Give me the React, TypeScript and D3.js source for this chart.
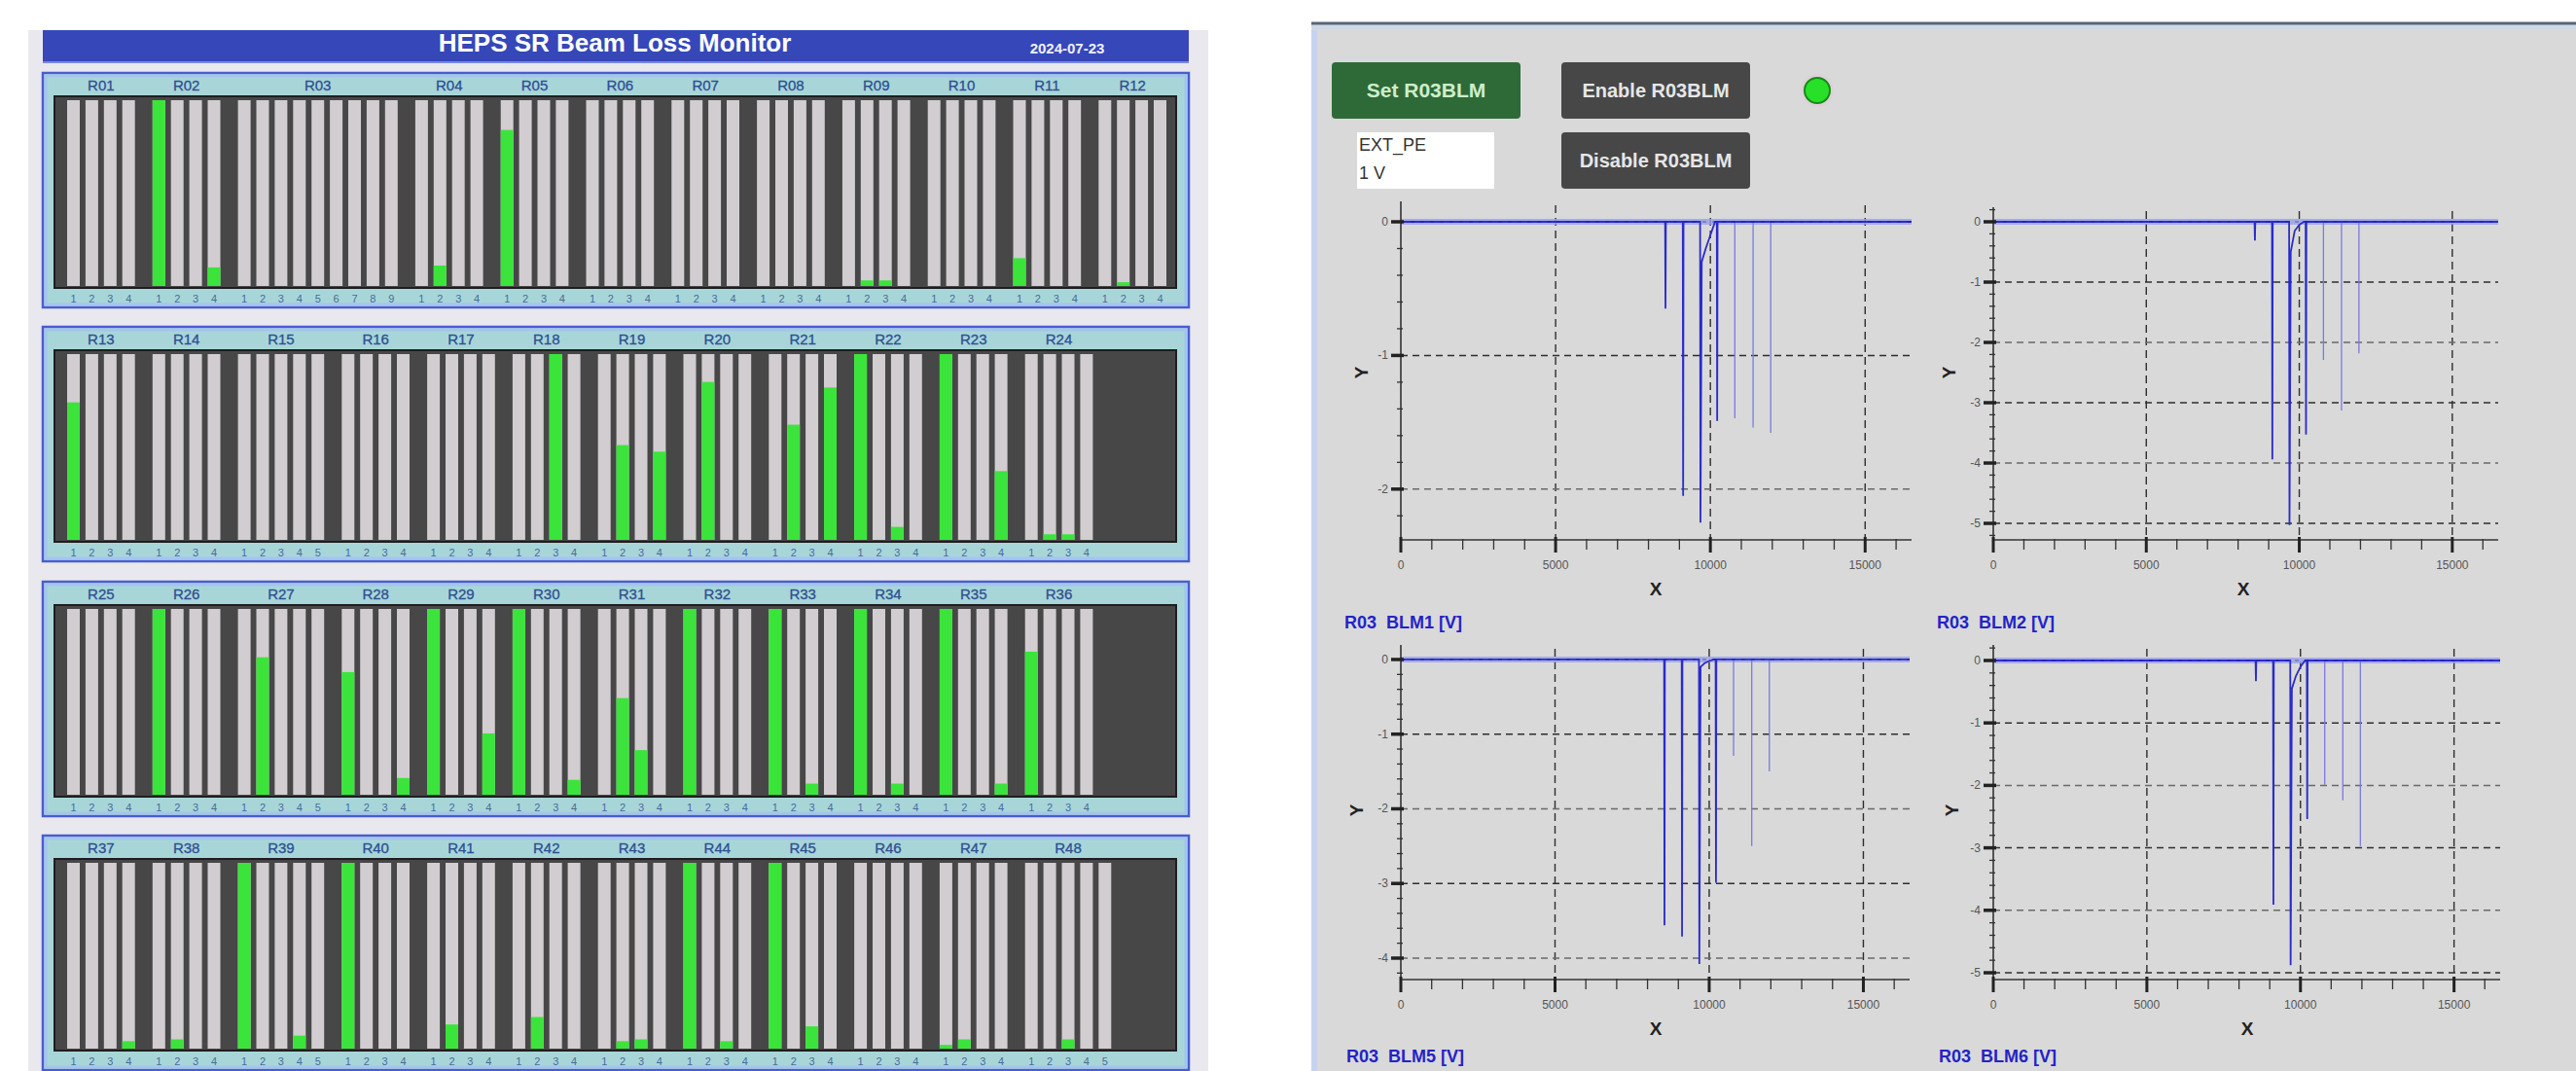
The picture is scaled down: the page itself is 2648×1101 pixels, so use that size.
import React from "react";
import * as d3 from "d3";

// ---------------- Left panel data ----------------
const TITLE = "HEPS SR Beam Loss Monitor";
const DATE = "2024-07-23";

const RINGS_ROW1 = ["R01", "R02", "R03", "R04", "R05", "R06", "R07", "R08", "R09", "R10", "R11", "R12"];
const RINGS_ROW2 = ["R13", "R14", "R15", "R16", "R17", "R18", "R19", "R20", "R21", "R22", "R23", "R24"];
const RINGS_ROW3 = ["R25", "R26", "R27", "R28", "R29", "R30", "R31", "R32", "R33", "R34", "R35", "R36"];
const RINGS_ROW4 = ["R37", "R38", "R39", "R40", "R41", "R42", "R43", "R44", "R45", "R46", "R47", "R48"];

// loss level (fraction of full scale) for each BLM of each ring
const LOSS_ROW1 = [
  [0, 0, 0, 0], [1, 0, 0, 0.1], [0, 0, 0, 0, 0, 0, 0, 0, 0], [0, 0.11, 0, 0],
  [0.84, 0, 0, 0], [0, 0, 0, 0], [0, 0, 0, 0], [0, 0, 0, 0],
  [0, 0.03, 0.03, 0], [0, 0, 0, 0], [0.15, 0, 0, 0], [0, 0.02, 0, 0],
];
const LOSS_ROW2 = [
  [0.74, 0, 0, 0], [0, 0, 0, 0], [0, 0, 0, 0, 0], [0, 0, 0, 0],
  [0, 0, 0, 0], [0, 0, 1, 0], [0, 0.51, 0, 0.475], [0, 0.85, 0, 0],
  [0, 0.62, 0, 0.82], [1, 0, 0.07, 0], [1, 0, 0, 0.37], [0, 0.03, 0.03, 0],
];
const LOSS_ROW3 = [
  [0, 0, 0, 0], [1, 0, 0, 0], [0, 0.74, 0, 0, 0], [0.66, 0, 0, 0.09],
  [1, 0, 0, 0.33], [1, 0, 0, 0.08], [0, 0.52, 0.24, 0], [1, 0, 0, 0],
  [1, 0, 0.06, 0], [1, 0, 0.06, 0], [1, 0, 0, 0.06], [0.77, 0, 0, 0],
];
const LOSS_ROW4 = [
  [0, 0, 0, 0.04], [0, 0.05, 0, 0], [1, 0, 0, 0.07, 0], [1, 0, 0, 0],
  [0, 0.13, 0, 0], [0, 0.17, 0, 0], [0, 0.04, 0.05, 0], [1, 0, 0.04, 0],
  [1, 0, 0.12, 0], [0, 0, 0, 0], [0.02, 0.05, 0, 0], [0, 0, 0.05, 0, 0],
];

// ---------------- Right panel data ----------------
const BTN_SET = "Set R03BLM";
const BTN_ENABLE = "Enable R03BLM";
const BTN_DISABLE = "Disable R03BLM";
const STATUS_LINES = ["EXT_PE", "1 V"];

const X_DOMAIN = [0, 16500];
const X_TICKS = [0, 5000, 10000, 15000];
const SPIKE_X = [8550, 9120, 9680, 10220, 10790, 11380, 11950];
const TAIL_X = [9720, 9850, 10000, 10150];

const BLM1_DEPTH = [-0.65, -2.05, -2.25, -1.49, -1.47, -1.54, -1.58];
const BLM2_DEPTH = [-0.31, -3.94, -5.03, -3.53, -2.29, -3.13, -2.18];
const BLM5_DEPTH = [-3.56, -3.71, -4.08, -2.99, -1.29, -2.5, -1.5];
const BLM6_DEPTH = [-0.33, -3.91, -4.88, -2.54, -1.99, -2.24, -2.97];

const BLM1_TAIL = [-0.3, -0.2, -0.1, 0];
const BLM2_TAIL = [-0.5, -0.15, -0.05, 0];
const BLM5_TAIL = [-0.1, -0.05, -0.02, 0];
const BLM6_TAIL = [-0.45, -0.25, -0.1, 0];

const BLM1_Y_TICKS = [0, -1, -2];
const BLM2_Y_TICKS = [0, -1, -2, -3, -4, -5];
const BLM5_Y_TICKS = [0, -1, -2, -3, -4];
const BLM6_Y_TICKS = [0, -1, -2, -3, -4, -5];

const BLM1_Y_DOMAIN = [-2.38, 0.153];
const BLM2_Y_DOMAIN = [-5.274, 0.242];
const BLM5_Y_DOMAIN = [-4.287, 0.195];
const BLM6_Y_DOMAIN = [-5.109, 0.249];

const PLOT_TITLES = ["R03  BLM1 [V]", "R03  BLM2 [V]", "R03  BLM5 [V]", "R03  BLM6 [V]"];

// ---------------- Layout ----------------
const FONT = "'Liberation Sans', Arial, Helvetica, sans-serif";
const ROW_TOPS = [75, 336, 598, 859];
const PANEL_X0 = 44;
const PANEL_X1 = 1222;
const PANEL_H = 241;
const DARK_X0 = 56;
const DARK_X1 = 1209;
const BAR_X0 = 69;
const PITCH = 18.9;
const RING_GAP = 12.2;
const BAR_W = 13;

const PLOTS = [
  { left: 1440, right: 1965, top: 207, bottom: 555, yDomain: BLM1_Y_DOMAIN, yTicks: BLM1_Y_TICKS, depth: BLM1_DEPTH, tail: BLM1_TAIL, title: PLOT_TITLES[0], titleX: 1382, titleY: 646, xTitleX: 1702, xTitleY: 612, yTitleX: 1399, yTitleY: 383 },
  { left: 2049, right: 2568, top: 213, bottom: 555, yDomain: BLM2_Y_DOMAIN, yTicks: BLM2_Y_TICKS, depth: BLM2_DEPTH, tail: BLM2_TAIL, title: PLOT_TITLES[1], titleX: 1991, titleY: 646, xTitleX: 2306, xTitleY: 612, yTitleX: 2003, yTitleY: 383 },
  { left: 1440, right: 1963, top: 663, bottom: 1007, yDomain: BLM5_Y_DOMAIN, yTicks: BLM5_Y_TICKS, depth: BLM5_DEPTH, tail: BLM5_TAIL, title: PLOT_TITLES[2], titleX: 1384, titleY: 1092, xTitleX: 1702, xTitleY: 1064, yTitleX: 1394, yTitleY: 833 },
  { left: 2049, right: 2570, top: 663, bottom: 1007, yDomain: BLM6_Y_DOMAIN, yTicks: BLM6_Y_TICKS, depth: BLM6_DEPTH, tail: BLM6_TAIL, title: PLOT_TITLES[3], titleX: 1993, titleY: 1092, xTitleX: 2310, xTitleY: 1064, yTitleX: 2006, yTitleY: 833 },
];

function BlmRow({ top, rings, loss }: { top: number; rings: string[]; loss: number[][] }) {
  const darkTop = top + 24;
  const darkBottom = top + 221;
  const slot = d3.scaleLinear().domain([0, 1]).range([BAR_X0, BAR_X0 + PITCH]);
  const level = d3.scaleLinear().domain([0, 1]).range([darkBottom - 2, darkTop + 4]);
  const items: React.ReactNode[] = [];
  const labels: React.ReactNode[] = [];
  let k = 0;
  rings.forEach((ring, j) => {
    const vals = loss[j];
    const xs = vals.map((_, i) => slot(k + i) + j * RING_GAP);
    const cx = (xs[0] + xs[xs.length - 1] + BAR_W) / 2;
    labels.push(
      <text key={"rl" + ring} x={cx} y={top + 18} textAnchor="middle" fontSize={15} fill="#2d4f93" fontFamily={FONT} stroke="#2d4f93" strokeWidth={0.3}>
        {ring}
      </text>
    );
    vals.forEach((v, i) => {
      const x = xs[i];
      items.push(
        <rect key={`g${ring}-${i}`} x={x} y={level(1)} width={BAR_W} height={level(0) - level(1)} fill="#d2cdd0" />
      );
      if (v > 0) {
        items.push(
          <rect key={`v${ring}-${i}`} x={x} y={level(v)} width={BAR_W} height={level(0) - level(v)} fill="#3be43b" />
        );
      }
      labels.push(
        <text key={`n${ring}-${i}`} x={x + BAR_W / 2} y={darkBottom + 15} textAnchor="middle" fontSize={11} fill="#4a6a9e" fontFamily={FONT}>
          {i + 1}
        </text>
      );
    });
    k += vals.length;
  });
  return (
    <g>
      <rect x={PANEL_X0} y={top} width={PANEL_X1 - PANEL_X0} height={PANEL_H} fill="#a8d6d8" stroke="#4a5cd0" strokeWidth={2.5} />
      <rect x={PANEL_X0 + 3} y={top + 3} width={PANEL_X1 - PANEL_X0 - 6} height={PANEL_H - 6} fill="none" stroke="#a4c4ee" strokeWidth={3} />
      <rect x={DARK_X0} y={darkTop} width={DARK_X1 - DARK_X0} height={darkBottom - darkTop} fill="#474747" stroke="#1e1e1e" strokeWidth={2} />
      {items}
      {labels}
    </g>
  );
}

function TracePlot({ cfg }: { cfg: (typeof PLOTS)[number] }) {
  const x = d3.scaleLinear().domain(X_DOMAIN).range([cfg.left, cfg.right]);
  const y = d3.scaleLinear().domain(cfg.yDomain).range([cfg.bottom, cfg.top]);
  const line = d3.line<[number, number]>().x((d) => x(d[0])).y((d) => y(d[1]));

  const pts: [number, number][] = [[X_DOMAIN[0], 0]];
  for (let i = 0; i < 4; i++) {
    const sx = SPIKE_X[i];
    pts.push([sx - 12, 0], [sx, cfg.depth[i]]);
    if (i === 2) TAIL_X.forEach((tx, j) => pts.push([tx, cfg.tail[j]]));
    else pts.push([sx + 12, 0]);
  }
  pts.push([X_DOMAIN[1], 0]);

  const minorX = d3.range(X_DOMAIN[0], X_DOMAIN[1] + 1, 1000);
  const lo = Math.ceil(cfg.yDomain[0] / 0.2);
  const hi = Math.floor(cfg.yDomain[1] / 0.2);
  const minorY = d3.range(lo, hi + 1).map((i) => i * 0.2);

  return (
    <g fontFamily={FONT}>
      {X_TICKS.filter((t) => t > 0).map((t) => (
        <line key={"vg" + t} x1={x(t)} x2={x(t)} y1={cfg.top + 4} y2={cfg.bottom} stroke="#2e2e2e" strokeWidth={1.4} strokeDasharray="8,5" />
      ))}
      {cfg.yTicks.filter((t) => t < 0).map((t, i) => (
        <line key={"hg" + t} x1={cfg.left} x2={cfg.right} y1={y(t)} y2={y(t)} stroke={i % 2 === 0 ? "#2e2e2e" : "#6a6a6a"} strokeWidth={1.5} strokeDasharray="7,5" />
      ))}
      <line x1={x(X_DOMAIN[0])} x2={x(X_DOMAIN[1])} y1={y(0)} y2={y(0)} stroke="#9aa0ec" strokeWidth={6} opacity={0.8} />
      {SPIKE_X.slice(4).map((sx, i) => (
        <line key={"fs" + i} x1={x(sx)} x2={x(sx)} y1={y(0)} y2={y(cfg.depth[i + 4])} stroke="#7a7ae2" strokeWidth={1.3} />
      ))}
      <path d={line(pts) || ""} fill="none" stroke="#2b2bcc" strokeWidth={1.8} />
      <line x1={x(X_DOMAIN[0])} x2={x(X_DOMAIN[1])} y1={y(0)} y2={y(0)} stroke="#1a1a55" strokeWidth={1} strokeDasharray="4,6" opacity={0.55} />
      <line x1={cfg.left} x2={cfg.left} y1={cfg.top} y2={cfg.bottom} stroke="#333" strokeWidth={1.6} />
      <line x1={cfg.left} x2={cfg.right} y1={cfg.bottom} y2={cfg.bottom} stroke="#333" strokeWidth={1.6} />
      {minorX.map((t) => (
        <line key={"mx" + t} x1={x(t)} x2={x(t)} y1={cfg.bottom - 1} y2={cfg.bottom + 10} stroke="#333" strokeWidth={1.3} />
      ))}
      {X_TICKS.map((t) => (
        <line key={"Mx" + t} x1={x(t)} x2={x(t)} y1={cfg.bottom - 3} y2={cfg.bottom + 13} stroke="#222" strokeWidth={3} />
      ))}
      {minorY.map((t, i) => (
        <line key={"my" + i} x1={cfg.left - 4} x2={cfg.left + 2} y1={y(t)} y2={y(t)} stroke="#333" strokeWidth={1.3} />
      ))}
      {cfg.yTicks.map((t) => (
        <line key={"My" + t} x1={cfg.left - 10} x2={cfg.left + 3} y1={y(t)} y2={y(t)} stroke="#222" strokeWidth={3.5} />
      ))}
      {X_TICKS.map((t) => (
        <text key={"lx" + t} x={x(t)} y={cfg.bottom + 30} textAnchor="middle" fontSize={12} fill="#555">
          {t}
        </text>
      ))}
      {cfg.yTicks.map((t) => (
        <text key={"ly" + t} x={cfg.left - 13} y={y(t) + 4} textAnchor="end" fontSize={12} fill="#555">
          {t}
        </text>
      ))}
      <text x={cfg.xTitleX} y={cfg.xTitleY} textAnchor="middle" fontSize={19} fontWeight="bold" fill="#222">X</text>
      <text transform={`translate(${cfg.yTitleX},${cfg.yTitleY}) rotate(-90)`} textAnchor="middle" dominantBaseline="central" fontSize={19} fontWeight="bold" fill="#222">Y</text>
      <text x={cfg.titleX} y={cfg.titleY} fontSize={18} fontWeight="bold" fill="#2323c8" style={{ whiteSpace: "pre" }} xmlSpace="preserve">
        {cfg.title}
      </text>
    </g>
  );
}

export default function App() {
  const rows = [
    { rings: RINGS_ROW1, loss: LOSS_ROW1 },
    { rings: RINGS_ROW2, loss: LOSS_ROW2 },
    { rings: RINGS_ROW3, loss: LOSS_ROW3 },
    { rings: RINGS_ROW4, loss: LOSS_ROW4 },
  ];
  return (
    <>
      <style>{"html,body{margin:0;padding:0;overflow:hidden;background:#fff}"}</style>
      <svg width={2648} height={1101} style={{ position: "absolute", left: 0, top: 0, display: "block" }} fontFamily={FONT}>
        <rect x={0} y={0} width={2648} height={1101} fill="#ffffff" />
        <rect x={29} y={31} width={1213} height={1070} fill="#e8e8ee" />
        <rect x={PANEL_X0} y={31} width={PANEL_X1 - PANEL_X0} height={32} fill="#3547b9" />
        <line x1={PANEL_X0} x2={PANEL_X1} y1={64} y2={64} stroke="#7a88dd" strokeWidth={2} />
        <text x={632} y={53} textAnchor="middle" fontSize={26} fontWeight="bold" fill="#ffffff">{TITLE}</text>
        <text x={1097} y={55} textAnchor="middle" fontSize={15} fontWeight="bold" fill="#f0f0ff">{DATE}</text>
        {rows.map((r, i) => (
          <BlmRow key={i} top={ROW_TOPS[i]} rings={r.rings} loss={r.loss} />
        ))}

        <rect x={1348} y={23} width={1300} height={1078} fill="#d9d9d9" />
        <rect x={1348} y={23} width={6} height={1078} fill="#c6d3ee" />
        <rect x={1348} y={25} width={1300} height={6} fill="#d0d8e4" />
        <line x1={1348} x2={2648} y1={24} y2={24} stroke="#56667a" strokeWidth={3} />

        <rect x={1369} y={64} width={194} height={58} rx={4} fill="#2e6a37" />
        <text x={1466} y={100} textAnchor="middle" fontSize={21} fontWeight="bold" fill="#cdeecb">{BTN_SET}</text>
        <rect x={1605} y={64} width={194} height={58} rx={4} fill="#474747" />
        <text x={1702} y={100} textAnchor="middle" fontSize={20} fontWeight="bold" fill="#e6e6e6">{BTN_ENABLE}</text>
        <rect x={1605} y={136} width={194} height={58} rx={4} fill="#474747" />
        <text x={1702} y={172} textAnchor="middle" fontSize={20} fontWeight="bold" fill="#e6e6e6">{BTN_DISABLE}</text>
        <circle cx={1868} cy={93} r={17} fill="#e6c8d8" opacity={0.5} />
        <circle cx={1868} cy={93} r={13} fill="#27e027" stroke="#178a17" strokeWidth={2} />
        <rect x={1395} y={136} width={141} height={58} fill="#ffffff" />
        {STATUS_LINES.map((s, i) => (
          <text key={s} x={1397} y={155 + i * 29} fontSize={18} fill="#333">{s}</text>
        ))}
        {PLOTS.map((p, i) => (
          <TracePlot key={i} cfg={p} />
        ))}
      </svg>
    </>
  );
}
